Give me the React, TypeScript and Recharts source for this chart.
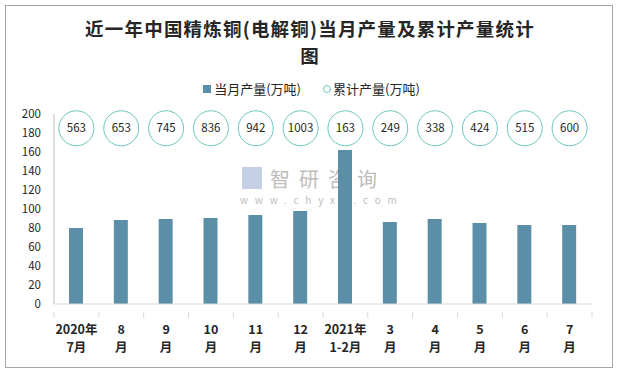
import { Bar, ComposedChart, Line, XAxis, YAxis } from 'recharts'

const months = ['2020年|7月', '8|月', '9|月', '10|月', '11|月', '12|月', '2021年|1-2月', '3|月', '4|月', '5|月', '6|月', '7|月']
const monthly = [80, 88.4, 89.5, 90.5, 93.7, 97.9, 162, 86.3, 89.5, 85.3, 83.2, 83.2]
const cumulative = [563, 653, 745, 836, 942, 1003, 163, 249, 338, 424, 515, 600]
const yTicks = [0, 20, 40, 60, 80, 100, 120, 140, 160, 180, 200]

const data = months.map((m, i) => ({ month: m, monthly: monthly[i], cum: cumulative[i] }))

// the cumulative bubbles sit in one row near the top of the plot
const CIRCLE_ROW = 185
const BAR_COLOR = '#5b8fa8'
const CIRCLE_COLOR = '#6cc6bd'
const CJK = '"Noto Sans CJK SC", "Noto Sans", sans-serif'

const plotLeft = 54
const plotRight = 592
const halfBand = (plotRight - plotLeft) / months.length / 2

function MonthTick(props: any) {
  const { x, y, payload, index } = props
  const [top, bottom] = String(payload.value).split('|')
  return (
    <g>
      <line x1={x - halfBand} x2={x - halfBand} y1={y} y2={y + 6} stroke='#d9d9d9' />
      {index === months.length - 1 && (
        <line x1={x + halfBand} x2={x + halfBand} y1={y} y2={y + 6} stroke='#d9d9d9' />
      )}
      <text x={x} y={y + 22} textAnchor='middle' fontSize={12.5} fontWeight='bold' fill='#262626' fontFamily={CJK}>
        {top}
      </text>
      <text x={x} y={y + 40} textAnchor='middle' fontSize={12.5} fontWeight='bold' fill='#262626' fontFamily={CJK}>
        {bottom}
      </text>
    </g>
  )
}

function Bubble(props: any) {
  const { cx, cy, payload } = props
  if (cx == null || cy == null) return null
  return (
    <g>
      <circle cx={cx} cy={cy} r={17.5} fill='#fff' stroke={CIRCLE_COLOR} strokeWidth={1} />
      <text x={cx} y={cy + 4} textAnchor='middle' fontSize={11.5} fill='#262626' fontFamily={CJK}>
        {payload.cum}
      </text>
    </g>
  )
}

const titleStyle = {
  position: 'absolute' as const,
  left: 40,
  width: 540,
  textAlign: 'center' as const,
  fontSize: 18.5,
  lineHeight: '27px',
  letterSpacing: 1.2,
  fontWeight: 'bold' as const,
  color: '#262626',
}

export default function App() {
  return (
    <div style={{ position: 'absolute', left: 0, top: 0, width: 621, height: 369, background: '#fff', fontFamily: CJK }}>
      <div style={{ position: 'absolute', left: 5, top: 5, width: 606, height: 361, border: '1px solid #a6a6a6' }} />
      <div style={{ ...titleStyle, top: 15 }}>近一年中国精炼铜(电解铜)当月产量及累计产量统计</div>
      <div style={{ ...titleStyle, top: 42 }}>图</div>
      <div
        style={{
          position: 'absolute',
          top: 79,
          left: 0,
          width: 621,
          display: 'flex',
          justifyContent: 'center',
          alignItems: 'center',
          fontSize: 13,
          color: '#262626',
        }}
      >
        <span style={{ display: 'inline-block', width: 8, height: 8, background: BAR_COLOR, marginRight: 3, marginLeft: 2 }} />
        <span>当月产量(万吨)</span>
        <span
          style={{
            display: 'inline-block',
            width: 6,
            height: 6,
            borderRadius: 4,
            border: `1.5px solid ${CIRCLE_COLOR}`,
            marginLeft: 22,
            marginRight: 2,
          }}
        />
        <span>累计产量(万吨)</span>
      </div>
      <div style={{ position: 'absolute', left: 242, top: 167, width: 20, height: 22, background: '#c5cfe6' }} />
      <div style={{ position: 'absolute', left: 270, top: 164, fontSize: 20, letterSpacing: 9, lineHeight: '29px', color: '#bdbdbd' }}>
        智研咨询
      </div>
      <div style={{ position: 'absolute', left: 240, top: 193, fontSize: 10, letterSpacing: 6.8, lineHeight: '14px', color: '#bdbdbd' }}>
        www.chyxx.com
      </div>
      <div style={{ position: 'absolute', left: 0, top: 0 }}>
        <ComposedChart width={621} height={369} data={data} margin={{ top: 114, right: 29, bottom: 0, left: 10 }}>
          <XAxis
            dataKey='month'
            interval={0}
            tickLine={false}
            axisLine={{ stroke: '#d9d9d9' }}
            tick={<MonthTick />}
            height={65}
          />
          <YAxis
            width={44}
            domain={[0, 200]}
            ticks={yTicks}
            interval={0}
            tickLine={false}
            tickSize={6}
            tickMargin={7}
            axisLine={{ stroke: '#bfbfbf' }}
            tick={{ fontSize: 11.5, fill: '#262626', fontFamily: CJK }}
          />
          <Bar dataKey='monthly' fill={BAR_COLOR} barSize={14} isAnimationActive={false} />
          <Line
            dataKey={() => CIRCLE_ROW}
            stroke='none'
            dot={<Bubble />}
            activeDot={false}
            isAnimationActive={false}
          />
        </ComposedChart>
      </div>
    </div>
  )
}
